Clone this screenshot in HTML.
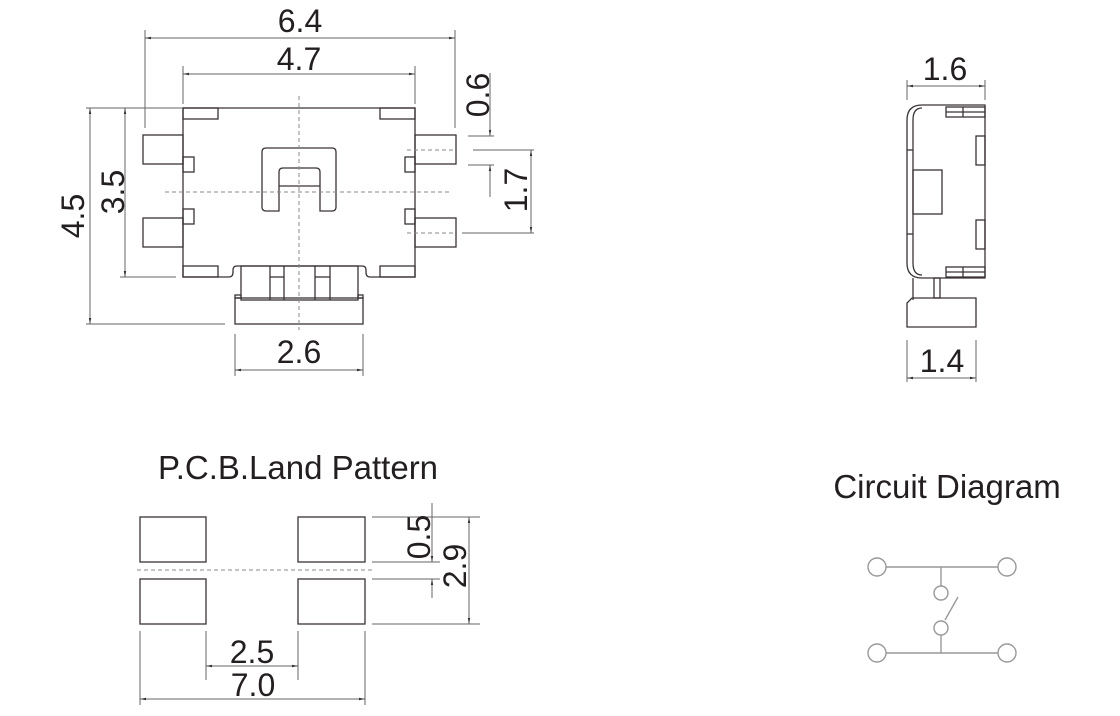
<!DOCTYPE html>
<html><head><meta charset="utf-8"><style>
html,body{margin:0;padding:0;background:#fff;}
svg{display:block}
text{font-family:"Liberation Sans",sans-serif;fill:#231f20}
</style></head><body>
<svg width="1120" height="716" viewBox="0 0 1120 716" xmlns="http://www.w3.org/2000/svg">
<defs>
<marker id="a" viewBox="0 0 10 10" refX="10" refY="5" markerWidth="6" markerHeight="6" orient="auto-start-reverse"><path d="M0,3 L10,5 L0,7z" fill="#333"/></marker>
</defs>
<g fill="none" stroke="#3a3335" stroke-width="1.3">
<path d="M183,108 H415 V277 H370 Q366,277 366,272 V270 Q366,266 362,266 H237 Q233,266 233,270 V272 Q233,277 229,277 H183 Z"/>
<rect x="183" y="108" width="35" height="11"/><rect x="380" y="108" width="35" height="11"/>
<rect x="183" y="266" width="35" height="11"/><rect x="380" y="266" width="35" height="11"/>
<rect x="143" y="135" width="40" height="29"/><rect x="143" y="218" width="40" height="29"/>
<rect x="415" y="135" width="41" height="29"/><rect x="415" y="218" width="41" height="29"/>
<rect x="183" y="157" width="11" height="15"/><rect x="183" y="209" width="11" height="15"/>
<rect x="405" y="157" width="10" height="15"/><rect x="405" y="209" width="10" height="15"/>
<path d="M266,148 H332 Q336,148 336,152 V207 Q336,211 332,211 H320 V172 Q320,168 316,168 H283 Q279,168 279,172 V211 H266 Q262,211 262,207 V152 Q262,148 266,148 Z"/>
<line x1="279" y1="186" x2="320" y2="186"/>
<rect x="241" y="266" width="117" height="34"/>
<line x1="270" y1="266" x2="270" y2="300"/><line x1="284" y1="266" x2="284" y2="300"/>
<line x1="315" y1="266" x2="315" y2="300"/><line x1="330" y1="266" x2="330" y2="300"/>
<line x1="270" y1="277" x2="284" y2="277"/><line x1="315" y1="277" x2="330" y2="277"/>
<rect x="235" y="298" width="128" height="26"/>
<rect x="235" y="295" width="6" height="3"/><rect x="358" y="295" width="5" height="3"/>
</g>
<g stroke="#888" stroke-width="1" stroke-dasharray="4,3" fill="none">
<line x1="299" y1="96" x2="299" y2="330"/>
<line x1="165" y1="192" x2="450" y2="192"/>
<line x1="407" y1="150" x2="455" y2="150"/><line x1="407" y1="233" x2="455" y2="233"/>
<line x1="137" y1="570" x2="373" y2="570"/>
</g>
<g stroke="#666" stroke-width="1" fill="none">
<line x1="145" y1="30" x2="145" y2="128"/><line x1="455" y1="30" x2="455" y2="128"/>
<line x1="145" y1="38" x2="455" y2="38" marker-start="url(#a)" marker-end="url(#a)"/>
<line x1="183" y1="66" x2="183" y2="104"/><line x1="415" y1="66" x2="415" y2="104"/>
<line x1="183" y1="74" x2="415" y2="74" marker-start="url(#a)" marker-end="url(#a)"/>
<line x1="86" y1="108" x2="183" y2="108"/><line x1="86" y1="324" x2="225" y2="324"/>
<line x1="90" y1="108" x2="90" y2="324" marker-start="url(#a)" marker-end="url(#a)"/>
<line x1="120" y1="277" x2="176" y2="277"/>
<line x1="125" y1="108" x2="125" y2="277" marker-start="url(#a)" marker-end="url(#a)"/>
<line x1="468" y1="136" x2="494" y2="136"/><line x1="468" y1="165" x2="494" y2="165"/>
<line x1="490" y1="73" x2="490" y2="136" marker-end="url(#a)"/>
<line x1="490" y1="165" x2="490" y2="197" marker-start="url(#a)"/>
<line x1="473" y1="150" x2="534" y2="150"/><line x1="462" y1="233" x2="534" y2="233"/>
<line x1="531" y1="150" x2="531" y2="233" marker-start="url(#a)" marker-end="url(#a)"/>
<line x1="235" y1="334" x2="235" y2="376"/><line x1="363" y1="334" x2="363" y2="376"/>
<line x1="235" y1="370" x2="363" y2="370" marker-start="url(#a)" marker-end="url(#a)"/>
<line x1="907" y1="80" x2="907" y2="100"/><line x1="985" y1="80" x2="985" y2="100"/>
<line x1="907" y1="86" x2="985" y2="86" marker-start="url(#a)" marker-end="url(#a)"/>
<line x1="907" y1="340" x2="907" y2="382"/><line x1="976" y1="340" x2="976" y2="382"/>
<line x1="907" y1="378" x2="976" y2="378" marker-start="url(#a)" marker-end="url(#a)"/>
<line x1="372" y1="517" x2="480" y2="517"/><line x1="372" y1="562" x2="440" y2="562"/>
<line x1="372" y1="579" x2="440" y2="579"/><line x1="372" y1="624" x2="480" y2="624"/>
<line x1="469" y1="517" x2="469" y2="624" marker-start="url(#a)" marker-end="url(#a)"/>
<line x1="432" y1="503" x2="432" y2="562" marker-end="url(#a)"/>
<line x1="432" y1="579" x2="432" y2="598" marker-start="url(#a)"/>
<line x1="140" y1="631" x2="140" y2="705"/><line x1="365" y1="631" x2="365" y2="705"/>
<line x1="206" y1="631" x2="206" y2="680"/><line x1="298" y1="631" x2="298" y2="680"/>
<line x1="206" y1="666" x2="298" y2="666" marker-start="url(#a)" marker-end="url(#a)"/>
<line x1="140" y1="699" x2="365" y2="699" marker-start="url(#a)" marker-end="url(#a)"/>
</g>
<g fill="none" stroke="#3a3335" stroke-width="1.3">
<path d="M922,105 H985 V278 H922 Q907,278 907,263 V120 Q907,105 922,105 Z"/>
<path d="M922,108 Q913,108 913,120 V263 Q913,275 922,275"/>
<line x1="907" y1="150" x2="913" y2="150"/><line x1="907" y1="234" x2="913" y2="234"/>
<rect x="913" y="170" width="29" height="44"/>
<rect x="946" y="107" width="39" height="10"/><line x1="963" y1="107" x2="963" y2="117"/><line x1="946" y1="112" x2="985" y2="112"/>
<rect x="946" y="267" width="39" height="10"/><line x1="963" y1="267" x2="963" y2="277"/><line x1="946" y1="272" x2="985" y2="272"/>
<rect x="976" y="136" width="9" height="29"/><rect x="976" y="220" width="9" height="29"/>
<line x1="913" y1="278" x2="913" y2="300"/>
<rect x="934" y="278" width="6" height="20"/>
<path d="M912,298 H976 V327 H907 V303 Z"/>
</g>
<g fill="none" stroke="#3a3335" stroke-width="1.3">
<rect x="140" y="517" width="66" height="45"/><rect x="298" y="517" width="67" height="45"/>
<rect x="140" y="579" width="66" height="45"/><rect x="298" y="579" width="67" height="45"/>
</g>
<g fill="#fff" stroke="#999" stroke-width="1.4">
<line x1="886" y1="567" x2="998" y2="567"/><line x1="886" y1="653" x2="998" y2="653"/>
<line x1="941" y1="567" x2="941" y2="586"/><line x1="941" y1="635" x2="941" y2="653"/>
<line x1="945" y1="620" x2="958" y2="597"/>
<circle cx="877" cy="567" r="9"/><circle cx="1007" cy="567" r="9"/>
<circle cx="877" cy="653" r="9"/><circle cx="1007" cy="653" r="9"/>
<circle cx="941" cy="593" r="7"/><circle cx="941" cy="628" r="7"/>
</g>
<g font-size="32" text-anchor="middle">
<text x="300" y="32">6.4</text>
<text x="299" y="70">4.7</text>
<text x="945" y="80">1.6</text>
<text x="942" y="372">1.4</text>
<text x="299" y="363">2.6</text>
<text x="252" y="663">2.5</text>
<text x="253" y="696">7.0</text>
<text transform="translate(84,216) rotate(-90)">4.5</text>
<text transform="translate(124,192) rotate(-90)">3.5</text>
<text transform="translate(489,95) rotate(-90)">0.6</text>
<text transform="translate(527,190) rotate(-90)">1.7</text>
<text transform="translate(430,537) rotate(-90)">0.5</text>
<text transform="translate(466,566) rotate(-90)">2.9</text>
</g>
<g font-size="33" text-anchor="middle">
<text x="298" y="479">P.C.B.Land Pattern</text>
<text x="947" y="498">Circuit Diagram</text>
</g>
</svg>
</body></html>
